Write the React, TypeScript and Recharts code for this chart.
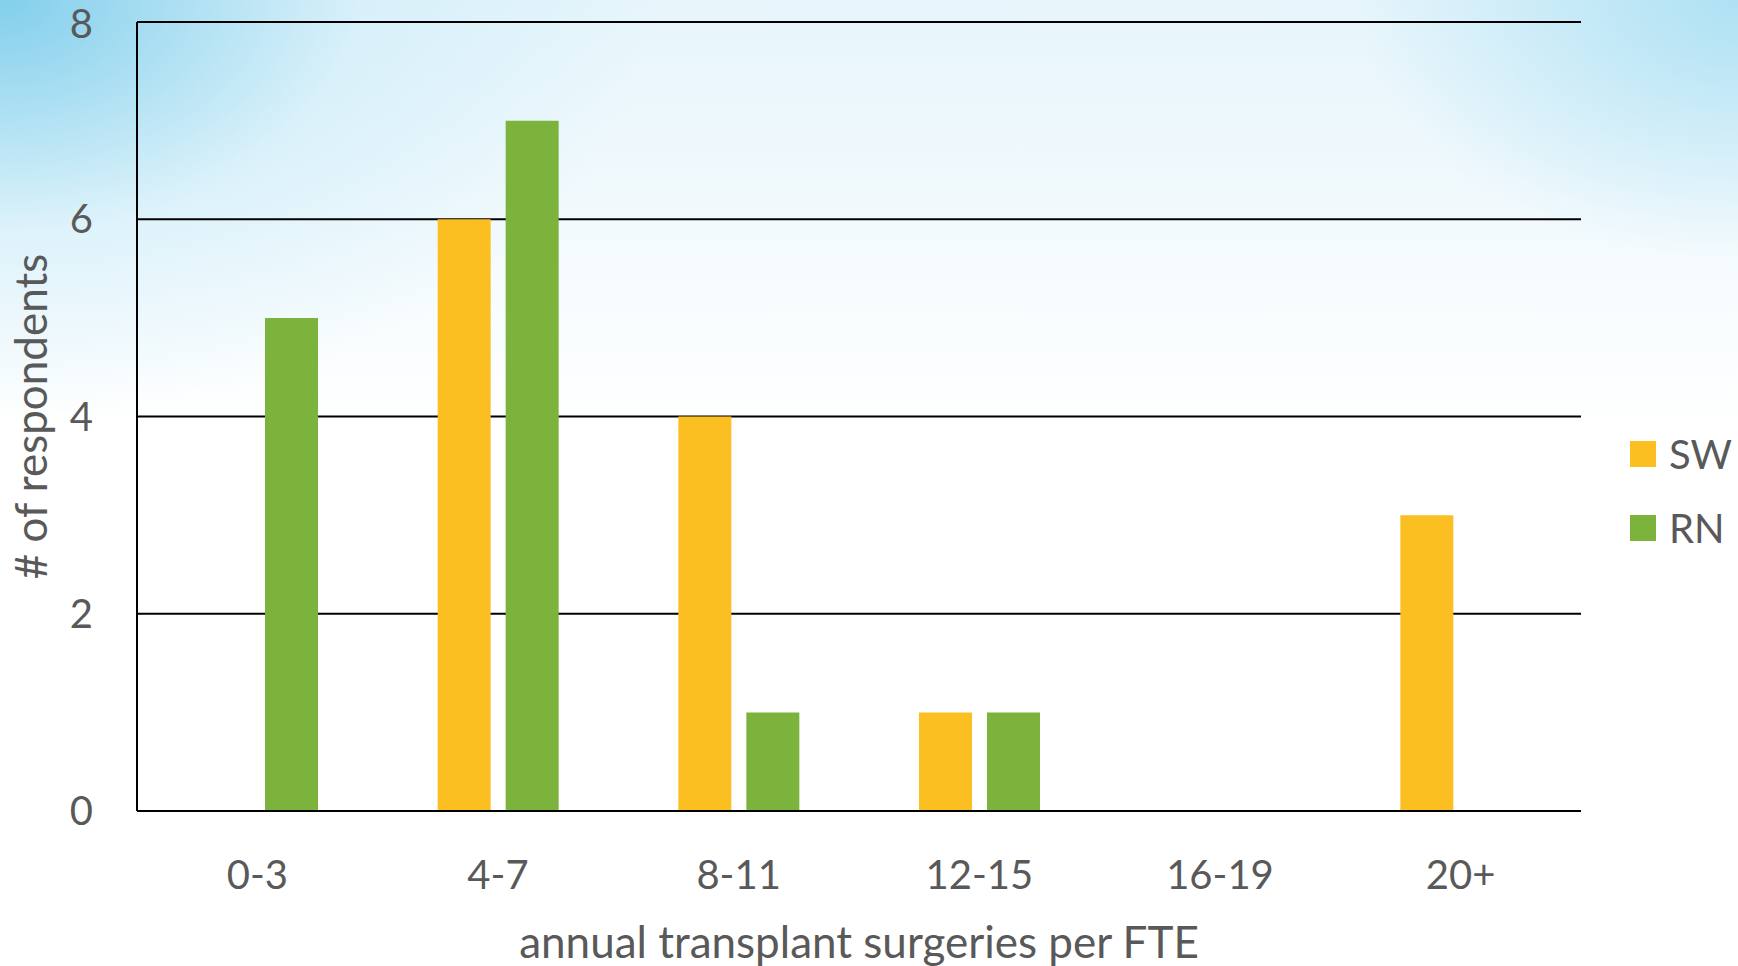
import React from 'react';
import { BarChart, Bar, XAxis, YAxis, CartesianGrid, Legend } from 'recharts';

const categories = ['0-3', '4-7', '8-11', '12-15', '16-19', '20+'];
const swValues = [0, 6, 4, 1, 0, 3];
const rnValues = [5, 7, 1, 1, 0, 0];
const yTicks = [0, 2, 4, 6, 8];
const seriesOrder = ['SW', 'RN'];

const data = categories.map((range, i) => ({ range, SW: swValues[i], RN: rnValues[i] }));

const FONT = 'Lato, "Open Sans", sans-serif';
const TEXT = '#595959';

const renderLegend = (props: any) => {
  const items = [...(props.payload || [])].sort(
    (a: any, b: any) => seriesOrder.indexOf(a.value) - seriesOrder.indexOf(b.value)
  );
  return (
    <div style={{ display: 'flex', flexDirection: 'column', gap: 26 }}>
      {items.map((entry: any) => (
        <div key={entry.value} style={{ display: 'flex', alignItems: 'center', height: 48 }}>
          <span style={{ width: 26, height: 26, background: entry.color, marginRight: 13, display: 'inline-block' }} />
          <span style={{ fontSize: 40, color: TEXT, fontFamily: FONT }}>{entry.value}</span>
        </div>
      ))}
    </div>
  );
};

const YTitle = (props: any) => {
  const { viewBox } = props;
  const cx = 30;
  const cy = viewBox.y + viewBox.height / 2;
  return (
    <text x={cx} y={cy} transform={`rotate(-90 ${cx} ${cy})`} textAnchor="middle" dominantBaseline="central"
      fill={TEXT} fontSize={44} fontFamily={FONT}>
      # of respondents
    </text>
  );
};

const App: React.FC = () => {
  return (
    <div
      style={{
        position: 'absolute', left: 0, top: 0, width: 1738, height: 966,
        background:
          'radial-gradient(ellipse 650px 420px at 0% 0%, rgba(125,205,235,0.95), rgba(200,235,248,0.5) 55%, rgba(255,255,255,0) 100%),' +
          'radial-gradient(ellipse 380px 260px at 100% 0%, rgba(160,220,242,0.8), rgba(255,255,255,0) 100%),' +
          'linear-gradient(to bottom, #e6f5fb 0%, #ffffff 45%)',
      }}
    >
      <BarChart width={1738} height={966} data={data} barSize={53} barGap={15}
        margin={{ top: 22, right: 157, left: 0, bottom: 0 }}>
        <CartesianGrid vertical={false} stroke="#000" strokeWidth={2} />
        <XAxis dataKey="range" height={155} axisLine={{ stroke: '#000', strokeWidth: 2 }} tickLine={false}
          tickSize={0} tickMargin={50} tick={{ fontSize: 40, fill: TEXT, fontFamily: FONT }}
          label={{ value: 'annual transplant surgeries per FTE', position: 'insideBottom', offset: 8,
            style: { fontSize: 44, fill: TEXT, fontFamily: FONT } }} />
        <YAxis width={137} domain={[0, 8]} ticks={yTicks} axisLine={{ stroke: '#000', strokeWidth: 2 }}
          tickLine={false} tickSize={0} tickMargin={44} tick={{ fontSize: 40, fill: TEXT, fontFamily: FONT }}
          label={{ content: YTitle }} />
        <Legend layout="vertical" align="center" verticalAlign="middle" content={renderLegend}
          wrapperStyle={{ left: 1630, top: 430, width: 'auto' }} />
        <Bar dataKey="SW" fill="#FBBF22" isAnimationActive={false} />
        <Bar dataKey="RN" fill="#7BB33C" isAnimationActive={false} />
      </BarChart>
    </div>
  );
};

export default App;
